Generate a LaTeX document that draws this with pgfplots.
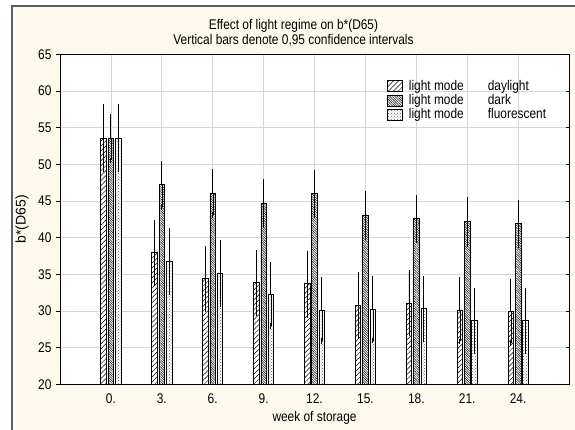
\documentclass[border=0pt]{standalone}
\usepackage{fontspec}
\setmainfont{Liberation Sans}[FakeStretch=0.85]
\newfontfamily\plainfont{Liberation Sans}
\usepackage{pgfplots}
\usepackage{pgfplotstable}
\pgfplotsset{compat=1.18}
\usetikzlibrary{patterns,patterns.meta}
\definecolor{cream}{RGB}{253,249,237}
\definecolor{framegray}{RGB}{95,95,95}
\definecolor{gridgray}{RGB}{214,214,214}

\pgfplotstableread{
x  d     de    k     ke    f     fe
0  53.6  4.3   53.6  3.05  53.6  4.3
1  38.0  4.2   47.2  3.0   36.8  4.2
2  34.4  4.2   46.1  3.0   35.1  4.25
3  33.9  4.2   44.7  3.0   32.2  4.25
4  33.7  4.25  46.0  3.0   30.1  4.2
5  30.8  4.2   43.1  3.0   30.2  4.25
6  31.1  4.2   42.6  3.0   30.3  4.2
7  30.1  4.25  42.2  3.05  28.7  4.2
8  29.9  4.25  41.9  2.95  28.7  4.2
}\data

\tikzset{
  daystyle/.style={draw=black, line width=0.7pt, fill=white,
    postaction={pattern={Lines[angle=45,distance=3.5pt,line width=0.5pt]}, pattern color=black}},
  darkstyle/.style={draw=black, line width=0.7pt, fill=white,
    postaction={pattern={Lines[angle=-45,distance=1.7pt,line width=0.6pt]}, pattern color=black!85}},
  flstyle/.style={draw=black, line width=0.7pt, fill=white,
    postaction={pattern=crosshatch dots, pattern color=black!60}},
}

\begin{document}
\begin{tikzpicture}
\begin{scope}
\clip (0,0) rectangle (575pt,-430pt);
\fill[white] (0,0) rectangle (575pt,-430pt);
\draw[fill=cream, draw=framegray, line width=1.2pt] (12pt,-6pt) rectangle (600pt,-450pt);
\end{scope}
\useasboundingbox (0,0) rectangle (575pt,-430pt);

\node[anchor=base, font=\fontsize{14}{16}\selectfont] at (293.5pt,-29.5pt) {Effect of light regime on b*(D65)};
\node[anchor=base, font=\fontsize{14}{16}\selectfont] at (293.5pt,-45pt) {Vertical bars denote 0,95 confidence intervals};

\begin{axis}[
  at={(60pt,-384.3pt)}, anchor=south west,
  width=509pt, height=330pt, scale only axis,
  font=\fontsize{14}{16}\selectfont,
  /pgf/number format/assume math mode=true,
  axis background/.style={fill=white},
  xmin=-1, xmax=9, ymin=20, ymax=65,
  ytick={20,25,...,65},
  xtick={0,1,...,8},
  xticklabels={0.,3.,6.,9.,12.,15.,18.,21.,24.},
  grid=major,
  major grid style={gridgray, line width=0.8pt},
  axis line style={black, line width=0.8pt},
  tick align=outside,
  xtick pos=bottom, ytick pos=left,
  xtick style={draw=none},
  ytick style={black, line width=0.6pt},
  major tick length=4pt,
  xticklabel style={yshift=-2pt},
  yticklabel style={xshift=-1pt},
  xlabel={week of storage},
  xlabel style={at={(0.5,0)}, anchor=base, yshift=-37pt},
  ylabel={\plainfont b*(D65)},
  every axis y label/.style={at={(axis description cs:-0.0747,0.5)}, rotate=90, anchor=center},
  ybar, bar width=0.108,
  legend style={at={(0.6424,0.924)}, anchor=north west, draw=none, fill=none,
    inner sep=0pt, row sep=0pt, column sep=5pt,
    nodes={inner sep=1pt, text height=9.5pt, text depth=2.8pt}},
  legend cell align=left,
  every axis plot/.append style={
    legend image code/.code={\draw[##1] (0pt,-5pt) rectangle (15pt,6pt);}},
]
\addplot[daystyle, bar shift=-0.144,
  error bars/.cd, y dir=plus, y explicit,
  error bar style={black, line width=0.9pt},
  error mark options={black, line width=0.9pt, mark size=2pt}]
  table[x=x, y=d, y error=de] {\data};
\addlegendentry{\makebox[79pt][l]{light mode}daylight}
\addplot[darkstyle, bar shift=0,
  error bars/.cd, y dir=plus, y explicit,
  error bar style={black, line width=0.9pt},
  error mark options={black, line width=0.9pt, mark size=2pt}]
  table[x=x, y=k, y error=ke] {\data};
\addlegendentry{\makebox[79pt][l]{light mode}dark}
\addplot[flstyle, bar shift=0.144,
  error bars/.cd, y dir=plus, y explicit,
  error bar style={black, line width=0.9pt},
  error mark options={black, line width=0.9pt, mark size=2pt}]
  table[x=x, y=f, y error=fe] {\data};
\addlegendentry{\makebox[79pt][l]{light mode}fluorescent}

\addplot[forget plot, draw=none, fill=none, bar shift=-0.144,
  error bars/.cd, y dir=minus, y explicit,
  error bar style={draw=none},
  error mark options={black, line width=0.9pt, mark size=2.75pt}]
  table[x=x, y=d, y error=de] {\data};
\addplot[forget plot, draw=none, fill=none, bar shift=0,
  error bars/.cd, y dir=minus, y explicit,
  error bar style={draw=none},
  error mark options={black, line width=0.9pt, mark size=2.75pt}]
  table[x=x, y=k, y error=ke] {\data};
\addplot[forget plot, draw=none, fill=none, bar shift=0.144,
  error bars/.cd, y dir=minus, y explicit,
  error bar style={draw=none},
  error mark options={black, line width=0.9pt, mark size=2.75pt}]
  table[x=x, y=f, y error=fe] {\data};
\end{axis}

\begin{axis}[
  at={(60pt,-384.3pt)}, anchor=south west,
  width=509pt, height=330pt, scale only axis,
  xmin=-1, xmax=9, ymin=20, ymax=65,
  ytick={20,25,...,65}, yticklabels={},
  xtick=\empty,
  ytick pos=right, tick align=inside,
  major tick length=3pt,
  ytick style={black, line width=0.6pt},
  axis line style={draw=none},
]
\end{axis}
\end{tikzpicture}
\end{document}
